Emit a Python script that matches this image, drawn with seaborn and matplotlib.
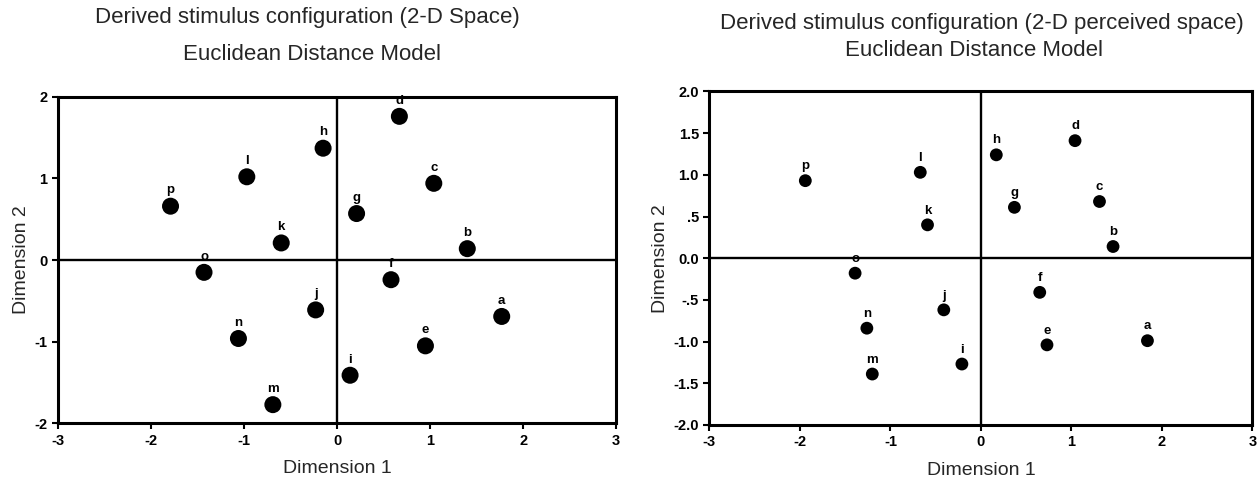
import matplotlib
matplotlib.use("Agg")
import matplotlib.pyplot as plt
import seaborn as sns
import pandas as pd

labels = ["a", "b", "c", "d", "e", "f", "g", "h", "i", "j", "k", "l", "m", "n", "o", "p"]

# Left panel: 2-D Space
left_x = [1.77, 1.40, 1.04, 0.67, 0.95, 0.58, 0.21, -0.15, 0.14, -0.23, -0.60, -0.97, -0.69, -1.06, -1.43, -1.79]
left_y = [-0.69, 0.14, 0.94, 1.76, -1.05, -0.24, 0.57, 1.37, -1.41, -0.61, 0.21, 1.02, -1.77, -0.96, -0.15, 0.66]

# Right panel: 2-D perceived space
right_x = [1.84, 1.46, 1.31, 1.04, 0.73, 0.65, 0.37, 0.17, -0.21, -0.41, -0.59, -0.67, -1.20, -1.26, -1.39, -1.94]
right_y = [-0.99, 0.14, 0.68, 1.41, -1.04, -0.41, 0.61, 1.24, -1.27, -0.62, 0.40, 1.03, -1.39, -0.84, -0.18, 0.93]

x_ticks = [-3, -2, -1, 0, 1, 2, 3]
left_y_ticks = [-2, -1, 0, 1, 2]
left_y_ticklabels = ["-2", "-1", "0", "1", "2"]
right_y_ticks = [-2.0, -1.5, -1.0, -0.5, 0.0, 0.5, 1.0, 1.5, 2.0]
right_y_ticklabels = ["-2.0", "-1.5", "-1.0", "-.5", "0.0", ".5", "1.0", "1.5", "2.0"]

sns.set_style("white")
plt.rcParams["font.family"] = ["Liberation Sans", "DejaVu Sans"]

fig = plt.figure(figsize=(12.6, 4.79), dpi=100)
axL = fig.add_axes([0.046, 0.116, 0.443, 0.682])
axR = fig.add_axes([0.563, 0.113, 0.431, 0.696])

def draw(ax, xs, ys, size, label_off, yticks, yticklabels):
    df = pd.DataFrame({"x": xs, "y": ys, "label": labels})
    ax.axhline(0, color="black", lw=1.7, zorder=1)
    ax.axvline(0, color="black", lw=1.7, zorder=1)
    sns.scatterplot(data=df, x="x", y="y", ax=ax, color="black", s=size,
                    edgecolor="none", legend=False, zorder=3)
    for _, r in df.iterrows():
        ax.annotate(r["label"], (r["x"], r["y"]), xytext=(0, label_off),
                    textcoords="offset points", ha="center", va="bottom",
                    fontsize=9.5, fontweight="bold", color="black")
    ax.set_xlim(-3, 3)
    ax.set_ylim(-2, 2)
    ax.set_xticks(x_ticks)
    ax.set_xticklabels([str(t) for t in x_ticks])
    ax.set_yticks(yticks)
    ax.set_yticklabels(yticklabels)
    for sp in ax.spines.values():
        sp.set_visible(True)
        sp.set_color("black")
        sp.set_linewidth(2.2)
    ax.tick_params(axis="both", direction="out", length=4, width=1.5,
                   labelsize=10.5, colors="black", bottom=True, left=True)
    for t in ax.get_xticklabels() + ax.get_yticklabels():
        t.set_fontweight("bold")
    ax.set_xlabel("Dimension 1", fontsize=14, labelpad=9)
    ax.set_ylabel("Dimension 2", fontsize=14, labelpad=3)

draw(axL, left_x, left_y, 150, 7, left_y_ticks, left_y_ticklabels)
draw(axR, right_x, right_y, 85, 6, right_y_ticks, right_y_ticklabels)

fig.text(307 / 1260, 1 - 17 / 479, "Derived stimulus configuration (2-D Space)",
         ha="center", va="center", fontsize=16)
fig.text(312 / 1260, 1 - 55 / 479, "Euclidean Distance Model",
         ha="center", va="center", fontsize=16)
fig.text(982 / 1260, 1 - 24 / 479, "Derived stimulus configuration (2-D perceived space)",
         ha="center", va="center", fontsize=16)
fig.text(974 / 1260, 1 - 51 / 479, "Euclidean Distance Model",
         ha="center", va="center", fontsize=16)

fig.savefig("out.png", dpi=100)
